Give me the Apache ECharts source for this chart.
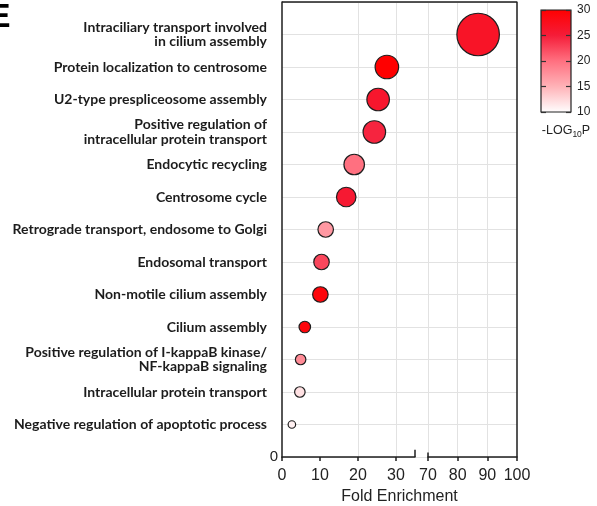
<!DOCTYPE html>
<html><head><meta charset="utf-8">
<script src="https://cdn.jsdelivr.net/npm/echarts@6/dist/echarts.min.js"></script>
<style>html,body{margin:0;padding:0;background:#fff}#c{width:597px;height:506px}</style>
</head><body><div id="c"></div>
<script>
// GO terms, top to bottom
const categories = [
  'Intraciliary transport involved\nin cilium assembly',
  'Protein localization to centrosome',
  'U2-type prespliceosome assembly',
  'Positive regulation of\nintracellular protein transport',
  'Endocytic recycling',
  'Centrosome cycle',
  'Retrograde transport, endosome to Golgi',
  'Endosomal transport',
  'Non-motile cilium assembly',
  'Cilium assembly',
  'Positive regulation of I-kappaB kinase/\nNF-kappaB signaling',
  'Intracellular protein transport',
  'Negative regulation of apoptotic process'
];
const foldEnrichment = [86.9, 27.6, 25.3, 24.3, 19.0, 16.9, 11.5, 10.4, 10.1, 6.0, 4.9, 4.7, 2.6];
const negLog10P     = [26.5, 30, 26, 24.5, 20, 25.5, 17, 22.5, 29, 29, 18, 12, 11];
const geneCount     = [43, 24, 23, 23, 21, 20, 16, 16, 16, 12, 11, 11, 8];
const leftAxisRange = [0, 35];
const rightAxisRange = [70, 100];
const colorbarTicks = [10, 15, 20, 25, 30];
const colorbarColors = ['#ffffff', '#ffb3b8', '#ff7080', '#f51c38', '#ff0000'];

// layout (pixels)
const plotLeft = 282, plotTop = 2, plotH = 455;
const leftW = 133, rightLeft = 428, rightW = 89;

const n = categories.length;
const yTop = n + 1;
const catAtY = {};
categories.forEach((c, i) => { catAtY[n - i] = c; });

const leftPts = [], rightPts = [];
categories.forEach((c, i) => {
  const p = [foldEnrichment[i], n - i, negLog10P[i], geneCount[i], c];
  (foldEnrichment[i] >= rightAxisRange[0] ? rightPts : leftPts).push(p);
});

const cbMin = colorbarTicks[0], cbMax = colorbarTicks[colorbarTicks.length - 1];
const gradStops = colorbarColors.map((col, i) => ({ offset: 1 - i / (colorbarColors.length - 1), color: col })).reverse();

const black = '#1e1e1e';
const grey = '#e2e2e2';
const clear = 'rgba(0,0,0,0)';
const tickFont = { fontFamily: 'Liberation Sans', fontSize: 16, color: '#222' };
const gb = { outerBoundsMode: 'none', containLabel: false };
const hiddenParts = { axisTick: { show: false }, axisLabel: { show: false }, splitLine: { show: false } };
const frameLine = { color: black, width: 1.5, type: 'solid' };

const chart = echarts.init(document.getElementById('c'), null, { renderer: 'canvas' });
chart.setOption({
  animation: false,
  backgroundColor: '#fff',
  graphic: [{ type: 'text', x: -11.5, y: 1, style: { text: 'E', fontFamily: 'Liberation Sans', fontWeight: 'bold', fontSize: 33, fill: '#000', textVerticalAlign: 'top' } }],
  grid: [
    Object.assign({ left: plotLeft, top: plotTop, width: rightLeft + rightW - plotLeft, height: plotH }, gb),
    Object.assign({ left: plotLeft, top: plotTop, width: leftW, height: plotH }, gb),
    Object.assign({ left: rightLeft, top: plotTop, width: rightW, height: plotH }, gb),
    Object.assign({ left: 541, top: 10, width: 30, height: 102 }, gb)
  ],
  visualMap: [{
    show: false, type: 'continuous', min: cbMin, max: cbMax, dimension: 2, seriesIndex: [0, 1],
    inRange: { color: colorbarColors }
  }],
  xAxis: [
    Object.assign({ gridIndex: 0, type: 'value', min: 0, max: 1, position: 'bottom',
      axisLine: { show: false, onZero: false },
      name: 'Fold Enrichment', nameLocation: 'middle', nameGap: 32,
      nameTextStyle: { fontFamily: 'Liberation Sans', fontSize: 16, color: '#222' } }, hiddenParts),
    { gridIndex: 1, type: 'value', min: leftAxisRange[0], max: leftAxisRange[1], interval: 10, position: 'bottom', z: 4,
      axisLine: { show: true, onZero: false, lineStyle: { color: black, width: 1.5 } },
      axisTick: { show: true, length: 4, lineStyle: { color: black, width: 1.5 } },
      axisLabel: Object.assign({ margin: 11, showMaxLabel: false, formatter: v => (v % 10 === 0 ? String(v) : '') }, tickFont),
      splitLine: { show: true, lineStyle: { color: [clear, clear, grey, grey, clear], width: 1 } } },
    { gridIndex: 2, type: 'value', min: rightAxisRange[0], max: rightAxisRange[1], interval: 10, position: 'bottom', z: 4,
      axisLine: { show: true, onZero: false, lineStyle: { color: black, width: 1.5 } },
      axisTick: { show: true, length: 4, lineStyle: { color: black, width: 1.5 } },
      axisLabel: Object.assign({ margin: 11 }, tickFont),
      splitLine: { show: true, lineStyle: { color: [grey, grey, grey, clear], width: 1 } } },
    Object.assign({ gridIndex: 3, type: 'value', min: 0, max: 1, position: 'bottom',
      axisLine: { show: false, onZero: false },
      name: '-LOG{s|10}P', nameLocation: 'middle', nameGap: 11,
      nameTextStyle: { fontFamily: 'Liberation Sans', fontSize: 12.5, color: '#222', padding: [0, 0, 0, 20],
        rich: { s: { fontFamily: 'Liberation Sans', fontSize: 8.5, color: '#222', padding: [7, 0, 0, 0] } } } }, hiddenParts)
  ],
  yAxis: [
    { gridIndex: 0, type: 'value', min: 0, max: yTop, interval: 1, position: 'left', z: 4,
      axisLine: { show: true, onZero: false, lineStyle: { color: black, width: 1.5 } },
      axisTick: { show: false },
      axisLabel: {
        margin: 4, showMaxLabel: false,
        formatter: v => {
          if (v === 0) return '{z|0}';
          const c = catAtY[v];
          if (!c) return '';
          return c.split('\n').map(s => '{c|' + s + '}').join('\n');
        },
        rich: {
          c: { fontFamily: 'Lato', fontWeight: 'bold', fontSize: 14, color: '#1c1c1c', lineHeight: 14.5, padding: [0, 11, 0, 0] },
          z: { fontFamily: 'Liberation Sans', fontSize: 15, color: '#222' }
        }
      },
      splitLine: { show: true, lineStyle: { color: grey, width: 1 } } },
    { gridIndex: 1, type: 'value', min: 0, max: yTop, show: false },
    { gridIndex: 2, type: 'value', min: 0, max: yTop, show: false },
    { gridIndex: 3, type: 'value', min: cbMin, max: cbMax, interval: 5, position: 'right', z: 6,
      axisLine: { show: false, onZero: false },
      axisTick: { show: true, inside: true, length: 5, lineStyle: { color: '#333', width: 1.2 } },
      axisLabel: { margin: 6, fontFamily: 'Liberation Sans', fontSize: 12, color: '#222' },
      splitLine: { show: false } },
    { gridIndex: 3, type: 'value', min: cbMin, max: cbMax, interval: 5, position: 'left', z: 6,
      axisLine: { show: false, onZero: false },
      axisTick: { show: true, inside: true, length: 5, lineStyle: { color: '#333', width: 1.2 } },
      axisLabel: { show: false }, splitLine: { show: false } }
  ],
  series: [
    { type: 'scatter', xAxisIndex: 1, yAxisIndex: 1, data: leftPts, clip: false, z: 5,
      symbolSize: d => d[3] - 0.5,
      itemStyle: { borderColor: black, borderWidth: 1.2, opacity: 1 },
      markLine: { silent: true, symbol: 'none', label: { show: false }, lineStyle: frameLine,
        data: [[{ coord: [leftAxisRange[1], 0] }, { coord: [leftAxisRange[1], 0.22] }]] } },
    { type: 'scatter', xAxisIndex: 2, yAxisIndex: 2, data: rightPts, clip: false, z: 5,
      symbolSize: d => d[3] - 0.5,
      itemStyle: { borderColor: black, borderWidth: 1.2, opacity: 1 },
      markLine: { silent: true, symbol: 'none', label: { show: false }, lineStyle: frameLine,
        data: [[{ coord: [rightAxisRange[0], 0] }, { coord: [rightAxisRange[0], 0.14] }]] } },
    { type: 'custom', xAxisIndex: 3, yAxisIndex: 3, z: 2, silent: true,
      data: [[0, cbMin, cbMax]],
      encode: { x: 0, y: [1, 2] },
      renderItem: (params, api) => {
        const p1 = api.coord([0, api.value(2)]);
        const p2 = api.coord([1, api.value(1)]);
        return { type: 'rect', shape: { x: p1[0], y: p1[1], width: p2[0] - p1[0], height: p2[1] - p1[1] },
          style: { fill: new echarts.graphic.LinearGradient(0, 0, 0, 1, gradStops), stroke: '#222', lineWidth: 1.2 } };
      } },
    // plot frame: top and right edges of the full panel
    { type: 'line', xAxisIndex: 0, yAxisIndex: 0, z: 4, silent: true, clip: false,
      symbol: 'none', lineStyle: frameLine,
      data: [[0, yTop], [1, yTop], [1, 0]] }
  ]
});
</script></body></html>
